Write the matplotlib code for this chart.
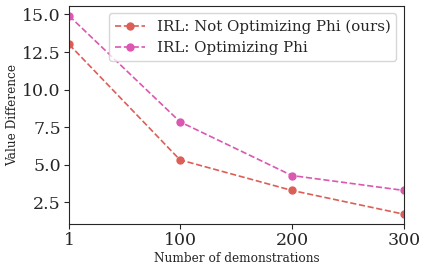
import numpy as np
import seaborn as sns
from matplotlib import pyplot as plt

# Data
demos = [1, 100, 200, 300]
not_optimizing = [13.0, 5.33, 3.3, 1.72]
optimizing = [14.9, 7.86, 4.29, 3.3]
labels = ["IRL: Not Optimizing Phi (ours)", "IRL: Optimizing Phi"]

sns.set_style("ticks")
plt.rcParams["font.family"] = ["DejaVu Serif"]
colors = sns.color_palette("hls", 8)

fig, ax = plt.subplots(figsize=(4.27, 2.72), dpi=100)
fig.subplots_adjust(left=0.162, right=0.946, top=0.978, bottom=0.176)

ax.plot(demos, not_optimizing, "o--", color=colors[0], markersize=5, linewidth=1.2, label=labels[0])
ax.plot(demos, optimizing, "o--", color=colors[7], markersize=5, linewidth=1.2, label=labels[1])

ax.set_xlim(1, 300)
ax.set_xticks(demos)
ax.tick_params(axis="both", labelsize=12.5, pad=2.5)
ax.set_xlabel("Number of demonstrations", fontsize=8.7, labelpad=2)
ax.set_ylabel("Value Difference", fontsize=8.7, labelpad=2)
ax.legend(fontsize=10.8, loc="upper right")

plt.savefig("out.png", dpi=100)
plt.close()
